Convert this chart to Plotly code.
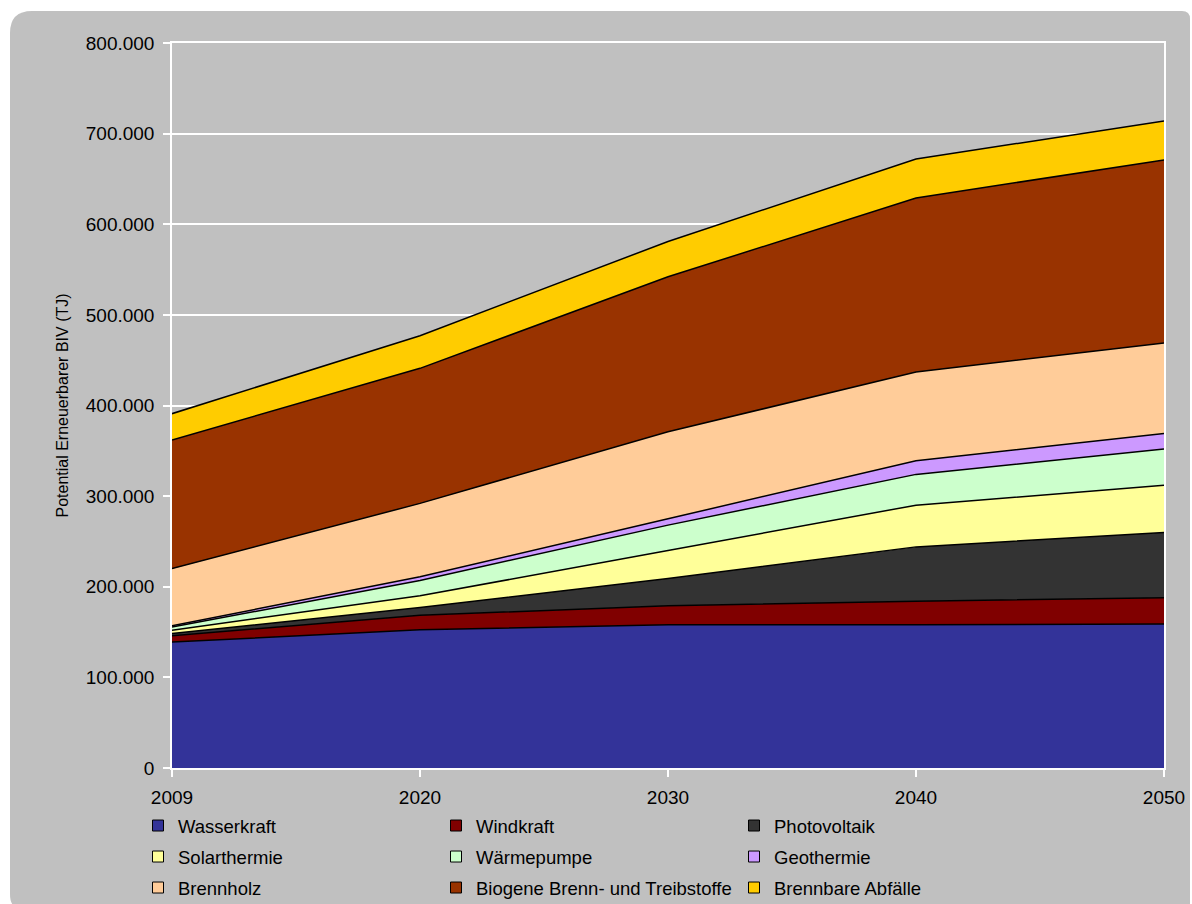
import plotly.graph_objects as go

# ---- data ----
years = ["2009", "2020", "2030", "2040", "2050"]
wasserkraft = [139000, 152500, 158000, 158000, 159000]
windkraft = [7000, 16000, 21000, 26000, 29000]
photovoltaik = [2500, 8500, 30000, 60000, 72000]
solarthermie = [3500, 13000, 31000, 46000, 52000]
waermepumpe = [3500, 17000, 28000, 34000, 40000]
geothermie = [1500, 4000, 7000, 15000, 17000]
brennholz = [63000, 81000, 96000, 98000, 100000]
biogene = [142000, 149000, 171000, 192000, 202000]
abfaelle = [29000, 36000, 39000, 43000, 43000]

series_names = ["Wasserkraft", "Windkraft", "Photovoltaik", "Solarthermie", "Wärmepumpe",
                "Geothermie", "Brennholz", "Biogene Brenn- und Treibstoffe", "Brennbare Abfälle"]
series_values = [wasserkraft, windkraft, photovoltaik, solarthermie, waermepumpe,
                 geothermie, brennholz, biogene, abfaelle]
series_colors = ["#333399", "#800000", "#333333", "#FFFF99", "#CCFFCC",
                 "#CC99FF", "#FFCC99", "#993300", "#FFCC00"]
y_title = "Potential Erneuerbarer BIV (TJ)"

# ---- layout geometry ----
W, H = 1192, 904
L, R, T, B = 172, 28, 43, 136
PW, PH = W - L - R, H - T - B
FONT = "Liberation Sans, Arial, sans-serif"


def px(x):
    return (x - L) / PW


def py(y):
    return (H - B - y) / PH


fig = go.Figure()

for name, vals, col in zip(series_names, series_values, series_colors):
    fig.add_trace(go.Scatter(
        x=years, y=vals, name=name, mode="lines", stackgroup="one",
        line=dict(color="black", width=1.5), fillcolor=col, showlegend=False,
        hoverinfo="x+y+name",
    ))

# legend entries (3 columns -> 3 legends)
legend_ids = ["legend", "legend2", "legend3"]
for i, (name, col) in enumerate(zip(series_names, series_colors)):
    fig.add_trace(go.Scatter(
        x=[None], y=[None], mode="markers", name=name,
        marker=dict(symbol="square", size=11, color=col, line=dict(color="black", width=1)),
        legend=legend_ids[i % 3], legendgroup=f"g{i}", showlegend=True,
    ))

# grey rounded background panel
x0, y0, x1, y1 = 10, 11, 1190, 904
r_tl, r_tr, r_bl = 22, 8, 10
path = (
    f"M {px(x0)},{py(y0 + r_tl)} Q {px(x0)},{py(y0)} {px(x0 + r_tl)},{py(y0)} "
    f"L {px(x1 - r_tr)},{py(y0)} Q {px(x1)},{py(y0)} {px(x1)},{py(y0 + r_tr)} "
    f"L {px(x1)},{py(y1 + 4)} L {px(x0 + r_bl)},{py(y1 + 4)} "
    f"Q {px(x0)},{py(y1 + 4)} {px(x0)},{py(y1 - r_bl)} Z"
)
fig.add_shape(type="path", path=path, xref="paper", yref="paper",
              fillcolor="#C0C0C0", line=dict(width=0), layer="below")

legend_common = dict(
    orientation="v", xanchor="left", yanchor="top", bgcolor="rgba(0,0,0,0)",
    borderwidth=0, font=dict(family=FONT, size=18.5, color="black"),
    tracegroupgap=3.95, itemclick=False, itemdoubleclick=False,
)
col_x = [138, 436, 734]
leg_top = 807

fig.update_layout(
    width=W, height=H,
    margin=dict(l=L, r=R, t=T, b=B, pad=0, autoexpand=False),
    paper_bgcolor="white", plot_bgcolor="rgba(0,0,0,0)",
    separators=",.",
    font=dict(family=FONT, color="black"),
    showlegend=True,
    legend=dict(x=px(col_x[0]), y=py(leg_top), **legend_common),
    legend2=dict(x=px(col_x[1]), y=py(leg_top), **legend_common),
    legend3=dict(x=px(col_x[2]), y=py(leg_top), **legend_common),
    xaxis=dict(
        type="category", range=[0, len(years) - 1],
        showgrid=False, showline=True, mirror=True, linecolor="white", linewidth=1.5,
        ticks="outside", ticklen=7, tickcolor="white", tickwidth=1.5,
        ticklabelstandoff=4,
        tickfont=dict(family=FONT, size=19, color="black"),
        zeroline=False, fixedrange=True,
    ),
    yaxis=dict(
        range=[0, 800000], dtick=100000, tickformat=",d",
        showgrid=True, gridcolor="white", gridwidth=1.5,
        showline=True, mirror=True, linecolor="white", linewidth=1.5,
        ticks="outside", ticklen=7, tickcolor="white", tickwidth=1.5,
        ticklabelstandoff=5,
        tickfont=dict(family=FONT, size=19, color="black"),
        title=dict(text=y_title, font=dict(family=FONT, size=16, color="black"), standoff=13),
        zeroline=False, fixedrange=True,
    ),
)

fig.write_html("out.html", config={"displayModeBar": False},
               post_script="document.body.style.margin='0';")
